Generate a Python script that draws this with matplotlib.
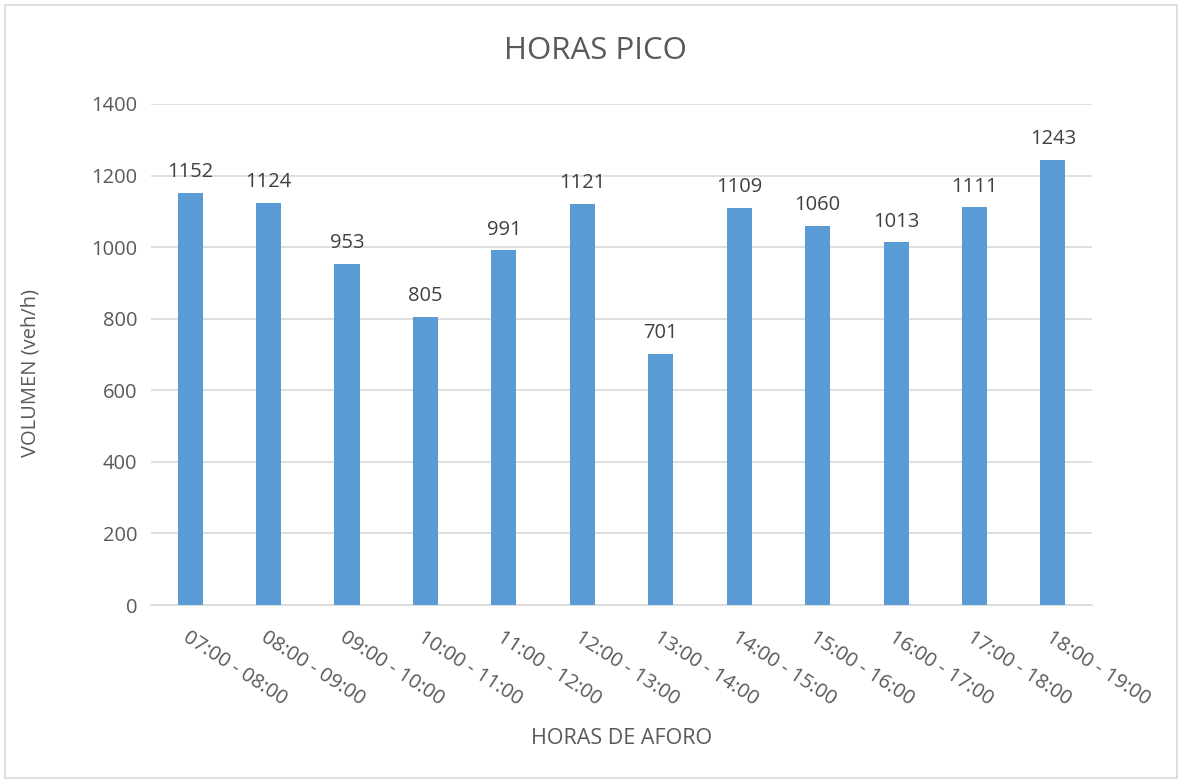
import matplotlib
matplotlib.use("Agg")
import matplotlib.pyplot as plt
from matplotlib.patches import Rectangle
from matplotlib.transforms import ScaledTranslation

categories = ["07:00 - 08:00", "08:00 - 09:00", "09:00 - 10:00", "10:00 - 11:00",
              "11:00 - 12:00", "12:00 - 13:00", "13:00 - 14:00", "14:00 - 15:00",
              "15:00 - 16:00", "16:00 - 17:00", "17:00 - 18:00", "18:00 - 19:00"]
values = [1152, 1124, 953, 805, 991, 1121, 701, 1109, 1060, 1013, 1111, 1243]
yticks = [0, 200, 400, 600, 800, 1000, 1200, 1400]

plt.rcParams['font.family'] = ['Open Sans', 'DejaVu Sans']
txt = '#595959'

fig = plt.figure(figsize=(11.82, 7.83), dpi=100)
ax = fig.add_axes([0.1277, 0.2273, 0.7963, 0.6399])

x = list(range(len(categories)))
ax.bar(x, values, width=0.32, color='#5B9BD5', zorder=3)
for xi, v in zip(x, values):
    ax.text(xi, v + 30, str(v), ha='center', va='bottom', fontsize=14.5, color='#404040')

ax.set_xlim(-0.5, len(categories) - 0.5)
ax.set_ylim(0, 1400)
ax.set_yticks(yticks)
ax.set_yticklabels([str(t) for t in yticks], fontsize=14.5, color=txt)
ax.set_xticks(x)
ax.set_xticklabels(categories, fontsize=14.5, color=txt, rotation=-33,
                   ha='left', va='top', rotation_mode='anchor')
offset = ScaledTranslation(0.04, 0, fig.dpi_scale_trans)
for lab in ax.get_xticklabels():
    lab.set_transform(lab.get_transform() + offset)
ax.tick_params(axis='both', length=0)
ax.tick_params(axis='y', pad=10)
ax.tick_params(axis='x', pad=16)
ax.grid(axis='y', color='#D9D9D9', linewidth=1.2, zorder=0)
for s in ['top', 'right', 'left']:
    ax.spines[s].set_visible(False)
ax.spines['bottom'].set_color('#D9D9D9')
ax.spines['bottom'].set_linewidth(1.2)

fig.text(0.026, 0.5236, 'VOLUMEN (veh/h)', ha='center', va='center', rotation=90,
         fontsize=14.5, color=txt)
fig.text(0.526, 0.057, 'HORAS DE AFORO', ha='center', va='center', fontsize=15.5, color=txt)
fig.text(0.504, 0.935, 'HORAS PICO', ha='center', va='center', fontsize=22.5, color=txt)

fig.patches.append(Rectangle((0.004, 0.006), 0.992, 0.988, transform=fig.transFigure,
                             fill=False, edgecolor='#D9D9D9', linewidth=1.2))

fig.savefig('out.png', dpi=100, facecolor='white')
